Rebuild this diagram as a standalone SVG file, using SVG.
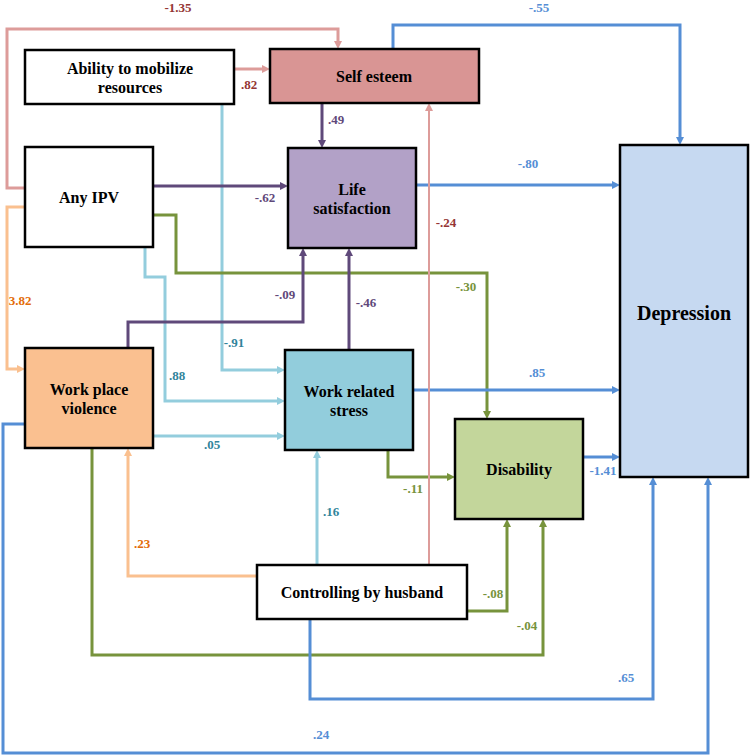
<svg xmlns="http://www.w3.org/2000/svg" width="750" height="755" viewBox="0 0 750 755">
<style>
.node{stroke:#000;stroke-width:2.5}
.nt{font-family:"Liberation Serif","Times New Roman",serif;font-weight:bold;font-size:16px;fill:#000;text-anchor:middle}
.lb{font-family:"Liberation Serif","Times New Roman",serif;font-weight:bold;font-size:13px;text-anchor:middle}
.c{fill:none;stroke-width:3;stroke-linejoin:miter}
.pink{stroke:#dd9c9a}
.blue{stroke:#558ed5}
.lblue{stroke:#93cddd}
.green{stroke:#77933c}
.purple{stroke:#5f497a}
.orange{stroke:#fac08f}
</style>
<defs>
<marker id="aPink" markerUnits="userSpaceOnUse" markerWidth="8" markerHeight="8" refX="3" refY="4" orient="auto"><path d="M0,0 L8,4 L0,8 z" fill="#dd9c9a"/></marker>
<marker id="aBlue" markerUnits="userSpaceOnUse" markerWidth="8" markerHeight="8" refX="3" refY="4" orient="auto"><path d="M0,0 L8,4 L0,8 z" fill="#558ed5"/></marker>
<marker id="aLblue" markerUnits="userSpaceOnUse" markerWidth="8" markerHeight="8" refX="3" refY="4" orient="auto"><path d="M0,0 L8,4 L0,8 z" fill="#93cddd"/></marker>
<marker id="aGreen" markerUnits="userSpaceOnUse" markerWidth="8" markerHeight="8" refX="3" refY="4" orient="auto"><path d="M0,0 L8,4 L0,8 z" fill="#77933c"/></marker>
<marker id="aPurple" markerUnits="userSpaceOnUse" markerWidth="8" markerHeight="8" refX="3" refY="4" orient="auto"><path d="M0,0 L8,4 L0,8 z" fill="#5f497a"/></marker>
<marker id="aOrange" markerUnits="userSpaceOnUse" markerWidth="8" markerHeight="8" refX="3" refY="4" orient="auto"><path d="M0,0 L8,4 L0,8 z" fill="#fac08f"/></marker>
</defs>
<rect width="750" height="755" fill="#fff"/>
<g id="connectors">
<path class="c lblue" d="M222,104 V370 H280" marker-end="url(#aLblue)"/>
<path class="c lblue" d="M145,247 V277 H165 V401 H280" marker-end="url(#aLblue)"/>
<path class="c lblue" d="M153,436 H280" marker-end="url(#aLblue)"/>
<path class="c lblue" d="M317,565 V455" marker-end="url(#aLblue)"/>
<path class="c pink" d="M25,188 H7 V29 H338 V44" marker-end="url(#aPink)"/>
<path class="c pink" d="M234,69 H265" marker-end="url(#aPink)"/>
<path class="c blue" d="M393,49 V25 H680 V140" marker-end="url(#aBlue)"/>
<path class="c purple" d="M322,103 V143" marker-end="url(#aPurple)"/>
<path class="c purple" d="M153,186 H283" marker-end="url(#aPurple)"/>
<path class="c green" d="M153,215 H176 V273 H487 V414" marker-end="url(#aGreen)"/>
<path class="c purple" d="M128,348 V322 H303 V253" marker-end="url(#aPurple)"/>
<path class="c purple" d="M349,350 V253" marker-end="url(#aPurple)"/>
<path class="c orange" d="M25,207 H7 V369 H20" marker-end="url(#aOrange)"/>
<path class="c blue" d="M416,185 H615" marker-end="url(#aBlue)"/>
<path class="c blue" d="M413,390 H615" marker-end="url(#aBlue)"/>
<path class="c green" d="M388,450 V477 H450" marker-end="url(#aGreen)"/>
<path class="c blue" d="M583,457 H615" marker-end="url(#aBlue)"/>
<path class="c orange" d="M257,576 H128 V453" marker-end="url(#aOrange)"/>
<path class="c green" d="M467,611 H507 V524" marker-end="url(#aGreen)"/>
<path class="c green" d="M92,448 V655 H543 V524" marker-end="url(#aGreen)"/>
<path class="c blue" d="M310,619 V699 H653 V482" marker-end="url(#aBlue)"/>
<path class="c blue" d="M25,424 H3 V753 H708 V482" marker-end="url(#aBlue)"/>
<path class="c pink" style="stroke-width:2" d="M429,565 V108" marker-end="url(#aPink)"/>
</g>
<g id="labels">
<text class="lb" x="178" y="12" fill="#943634">-1.35</text>
<text class="lb" x="249" y="89" fill="#943634">.82</text>
<text class="lb" x="539" y="12" fill="#558ed5">-.55</text>
<text class="lb" x="336" y="124" fill="#5f497a">.49</text>
<text class="lb" x="265" y="202" fill="#5f497a">-.62</text>
<text class="lb" x="528" y="168" fill="#558ed5">-.80</text>
<text class="lb" x="446" y="227" fill="#943634">-.24</text>
<text class="lb" x="466" y="291" fill="#77933c">-.30</text>
<text class="lb" x="285" y="299" fill="#5f497a">-.09</text>
<text class="lb" x="366" y="307" fill="#5f497a">-.46</text>
<text class="lb" x="20" y="305" fill="#e36c09">3.82</text>
<text class="lb" x="234" y="347" fill="#31849b">-.91</text>
<text class="lb" x="177" y="380" fill="#31849b">.88</text>
<text class="lb" x="212" y="449" fill="#31849b">.05</text>
<text class="lb" x="537" y="377" fill="#558ed5">.85</text>
<text class="lb" x="603" y="475" fill="#558ed5">-1.41</text>
<text class="lb" x="413" y="493" fill="#77933c">-.11</text>
<text class="lb" x="331" y="516" fill="#31849b">.16</text>
<text class="lb" x="142" y="548" fill="#e36c09">.23</text>
<text class="lb" x="493" y="598" fill="#77933c">-.08</text>
<text class="lb" x="527" y="630" fill="#77933c">-.04</text>
<text class="lb" x="626" y="682" fill="#558ed5">.65</text>
<text class="lb" x="321" y="739" fill="#558ed5">.24</text>
</g>
<g id="ability">
<rect class="node" x="25" y="50" width="209" height="54" fill="#fff"/>
<text class="nt" x="130" y="74">Ability to mobilize</text>
<text class="nt" x="130" y="93">resources</text>
</g>
<g id="selfesteem">
<rect class="node" x="270" y="49" width="209" height="54" fill="#d99594"/>
<text class="nt" x="374" y="82">Self esteem</text>
</g>
<g id="anyipv">
<rect class="node" x="25" y="147" width="128" height="100" fill="#fff"/>
<text class="nt" x="89" y="203">Any IPV</text>
</g>
<g id="lifesat">
<rect class="node" x="288" y="148" width="128" height="100" fill="#b2a1c7"/>
<text class="nt" x="352" y="195">Life</text>
<text class="nt" x="352" y="214">satisfaction</text>
</g>
<g id="depression">
<rect class="node" x="620" y="145" width="128" height="332" fill="#c6d9f1"/>
<text class="nt" x="684" y="320" style="font-size:20px">Depression</text>
</g>
<g id="workplace">
<rect class="node" x="25" y="348" width="128" height="100" fill="#fac090"/>
<text class="nt" x="89" y="395">Work place</text>
<text class="nt" x="89" y="414">violence</text>
</g>
<g id="workstress">
<rect class="node" x="285" y="350" width="128" height="100" fill="#92cddc"/>
<text class="nt" x="349" y="397">Work related</text>
<text class="nt" x="349" y="416">stress</text>
</g>
<g id="disability">
<rect class="node" x="455" y="419" width="128" height="100" fill="#c3d69b"/>
<text class="nt" x="519" y="475">Disability</text>
</g>
<g id="controlling">
<rect class="node" x="257" y="565" width="210" height="54" fill="#fff"/>
<text class="nt" x="362" y="598">Controlling by husband</text>
</g>
</svg>
